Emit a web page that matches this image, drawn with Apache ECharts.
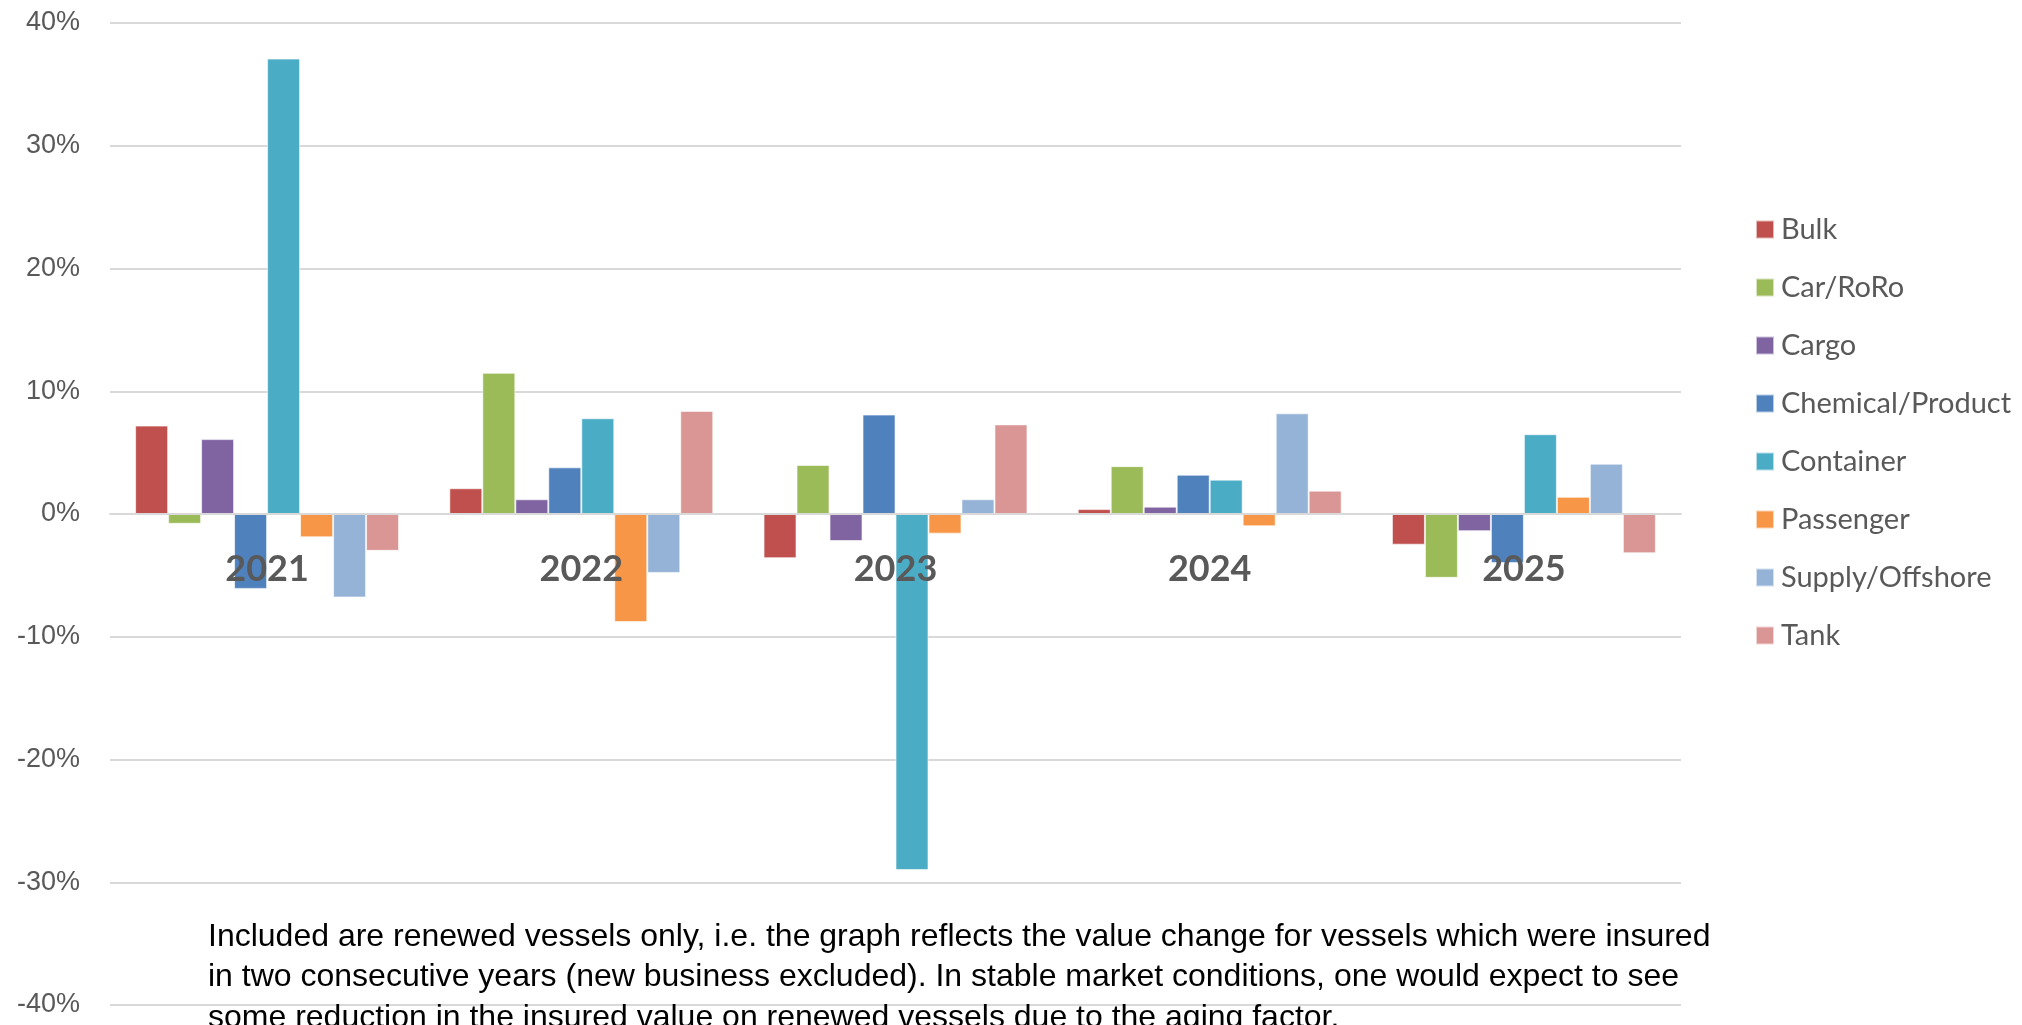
<!DOCTYPE html>
<html>
<head>
<meta charset="utf-8">
<script src="https://cdn.jsdelivr.net/npm/echarts@6/dist/echarts.min.js"></script>
<style>
html,body{margin:0;padding:0;background:#fff;}
#chart{width:2022px;height:1025px;}
</style>
</head>
<body>
<div id="chart"></div>
<script>
const years = ['2021', '2022', '2023', '2024', '2025'];
const seriesNames = ['Bulk', 'Car/RoRo', 'Cargo', 'Chemical/Product', 'Container', 'Passenger', 'Supply/Offshore', 'Tank'];
const bulk = [7.2, 2.1, -3.6, 0.4, -2.5];
const carRoRo = [-0.8, 11.5, 4.0, 3.9, -5.2];
const cargo = [6.1, 1.2, -2.2, 0.6, -1.4];
const chemicalProduct = [-6.1, 3.8, 8.1, 3.2, -4.0];
const container = [37.1, 7.8, -29.0, 2.8, 6.5];
const passenger = [-1.9, -8.8, -1.6, -1.0, 1.4];
const supplyOffshore = [-6.8, -4.8, 1.2, 8.2, 4.1];
const tank = [-3.0, 8.4, 7.3, 1.9, -3.2];
const yTicks = [-40, -30, -20, -10, 0, 10, 20, 30, 40];
const noteLines = [
  'Included are renewed vessels only, i.e. the graph reflects the value change for vessels which were insured',
  'in two consecutive years (new business excluded). In stable market conditions, one would expect to see',
  'some reduction in the insured value on renewed vessels due to the aging factor.'
];

const seriesData = [bulk, carRoRo, cargo, chemicalProduct, container, passenger, supplyOffshore, tank];
const colors = ['#C0504D', '#9BBB59', '#8064A2', '#4F81BD', '#4BACC6', '#F79646', '#95B3D7', '#D99694'];

const chart = echarts.init(document.getElementById('chart'));
chart.setOption({
  animation: false,
  color: colors,
  grid: [
    { left: 110, right: 341, top: 23, bottom: 20, containLabel: false, outerBoundsMode: 'none' },
    { left: 110, right: 341, top: 23, height: 491, containLabel: false, outerBoundsMode: 'none' }
  ],
  legend: {
    orient: 'vertical',
    left: 1755,
    top: 215,
    padding: 0,
    itemWidth: 18,
    itemHeight: 18,
    itemGap: 29,
    icon: 'rect',
    data: seriesNames,
    textStyle: { fontFamily: 'Lato', fontSize: 29, color: '#595959', padding: [0, 0, 0, 2] }
  },
  xAxis: [
    {
      type: 'category',
      gridIndex: 0,
      data: years,
      z: 10,
      axisLine: { onZero: true, lineStyle: { color: '#d9d9d9', width: 2 } },
      axisTick: { show: false },
      axisLabel: { show: false }
    },
    {
      type: 'category',
      gridIndex: 1,
      data: years,
      z: 10,
      axisLine: { show: false },
      axisTick: { show: false },
      splitLine: { show: false },
      axisLabel: { margin: 37, fontFamily: 'Lato', fontWeight: 'bold', fontSize: 36, color: '#595959' }
    }
  ],
  yAxis: [
    {
      type: 'value',
      gridIndex: 0,
      min: yTicks[0],
      max: yTicks[yTicks.length - 1],
      interval: 10,
      axisLine: { show: false },
      axisTick: { show: false },
      splitLine: { lineStyle: { color: '#d9d9d9', width: 2 } },
      axisLabel: { margin: 30, formatter: '{value}%', fontFamily: 'Liberation Sans', fontSize: 27, color: '#595959' }
    },
    { type: 'value', gridIndex: 1, show: false, splitLine: { show: false } }
  ],
  graphic: noteLines.map((t, i) => ({
    type: 'text',
    left: 208,
    top: 921 + i * 40.5,
    z: 100,
    style: { text: t, fontFamily: 'Liberation Sans', fontSize: 32, fill: '#000' }
  })),
  series: seriesNames.map((name, i) => ({
    name: name,
    type: 'bar',
    xAxisIndex: 0,
    yAxisIndex: 0,
    data: seriesData[i],
    barGap: '0%',
    barCategoryGap: '16%',
    itemStyle: { borderColor: 'rgba(255,255,255,0.6)', borderWidth: 1 }
  }))
});
</script>
</body>
</html>
